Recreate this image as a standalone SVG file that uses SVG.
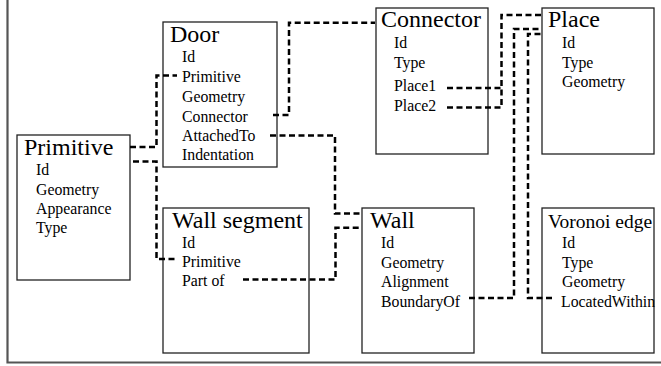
<svg xmlns="http://www.w3.org/2000/svg" width="661" height="366" viewBox="0 0 661 366">
<style>
.box{fill:#fff;stroke:#222;stroke-width:1.3}
.t{font-family:"Liberation Serif","Times New Roman",serif;font-size:24px;fill:#000}
.a{font-family:"Liberation Serif","Times New Roman",serif;font-size:15.8px;fill:#000}
.c{fill:none;stroke:#000;stroke-width:2.5;stroke-dasharray:6 3.5}
.frame{fill:none;stroke:#555;stroke-width:2.2}
</style>
<rect width="661" height="366" fill="#fff"/>
<path class="frame" d="M7.5,0 V362.5 H661"/>
<g id="primitive">
<rect class="box" x="17" y="135" width="113" height="145"/>
<text class="t" x="24" y="155">Primitive</text>
<text class="a" x="36" y="175">Id</text>
<text class="a" x="36" y="195">Geometry</text>
<text class="a" x="36" y="214">Appearance</text>
<text class="a" x="36" y="233">Type</text>
</g>
<g id="door">
<rect class="box" x="163" y="22" width="114" height="145"/>
<text class="t" x="170" y="42">Door</text>
<text class="a" x="182" y="62">Id</text>
<text class="a" x="182" y="82">Primitive</text>
<text class="a" x="182" y="102">Geometry</text>
<text class="a" x="182" y="122">Connector</text>
<text class="a" x="182" y="141">AttachedTo</text>
<text class="a" x="182" y="160">Indentation</text>
</g>
<g id="wall-segment">
<rect class="box" x="163" y="208" width="146" height="145"/>
<text class="t" x="172" y="228">Wall segment</text>
<text class="a" x="182" y="248">Id</text>
<text class="a" x="182" y="267">Primitive</text>
<text class="a" x="182" y="286">Part of</text>
</g>
<g id="connector">
<rect class="box" x="376" y="8" width="112" height="146"/>
<text class="t" x="381" y="27">Connector</text>
<text class="a" x="394" y="48">Id</text>
<text class="a" x="394" y="68">Type</text>
<text class="a" x="394" y="91">Place1</text>
<text class="a" x="394" y="111">Place2</text>
</g>
<g id="place">
<rect class="box" x="542" y="8" width="112" height="146"/>
<text class="t" x="548" y="27">Place</text>
<text class="a" x="562" y="48">Id</text>
<text class="a" x="562" y="68">Type</text>
<text class="a" x="562" y="87">Geometry</text>
</g>
<g id="wall">
<rect class="box" x="362" y="208" width="112" height="145"/>
<text class="t" x="370" y="228">Wall</text>
<text class="a" x="381" y="248">Id</text>
<text class="a" x="381" y="268">Geometry</text>
<text class="a" x="381" y="287">Alignment</text>
<text class="a" x="381" y="307">BoundaryOf</text>
</g>
<g id="voronoi-edge">
<rect class="box" x="542" y="208" width="112" height="145"/>
<text class="t" x="548" y="228" style="font-size:19.5px">Voronoi edge</text>
<text class="a" x="562" y="248">Id</text>
<text class="a" x="562" y="268">Type</text>
<text class="a" x="562" y="287">Geometry</text>
<text class="a" x="561" y="307">LocatedWithin</text>
</g>
<g id="connectors">
<path class="c" d="M273,115 H289 V22.7 H375"/>
<path class="c" d="M270,135.5 H335 V213.5 H362"/>
<path class="c" d="M243,279.5 H335.5 V227.7 H362"/>
<path class="c" d="M130,147 H156.5 V75.5 H177"/>
<path class="c" d="M133,161.5 H156.5 V259 H177"/>
<path class="c" d="M447,107.5 H501.5 V15 H541"/>
<path class="c" d="M447,88 H501.5"/>
<path class="c" d="M469,298 H514 V29 H541"/>
<path class="c" d="M552,298 H528 V34 H541"/>
</g>
</svg>
